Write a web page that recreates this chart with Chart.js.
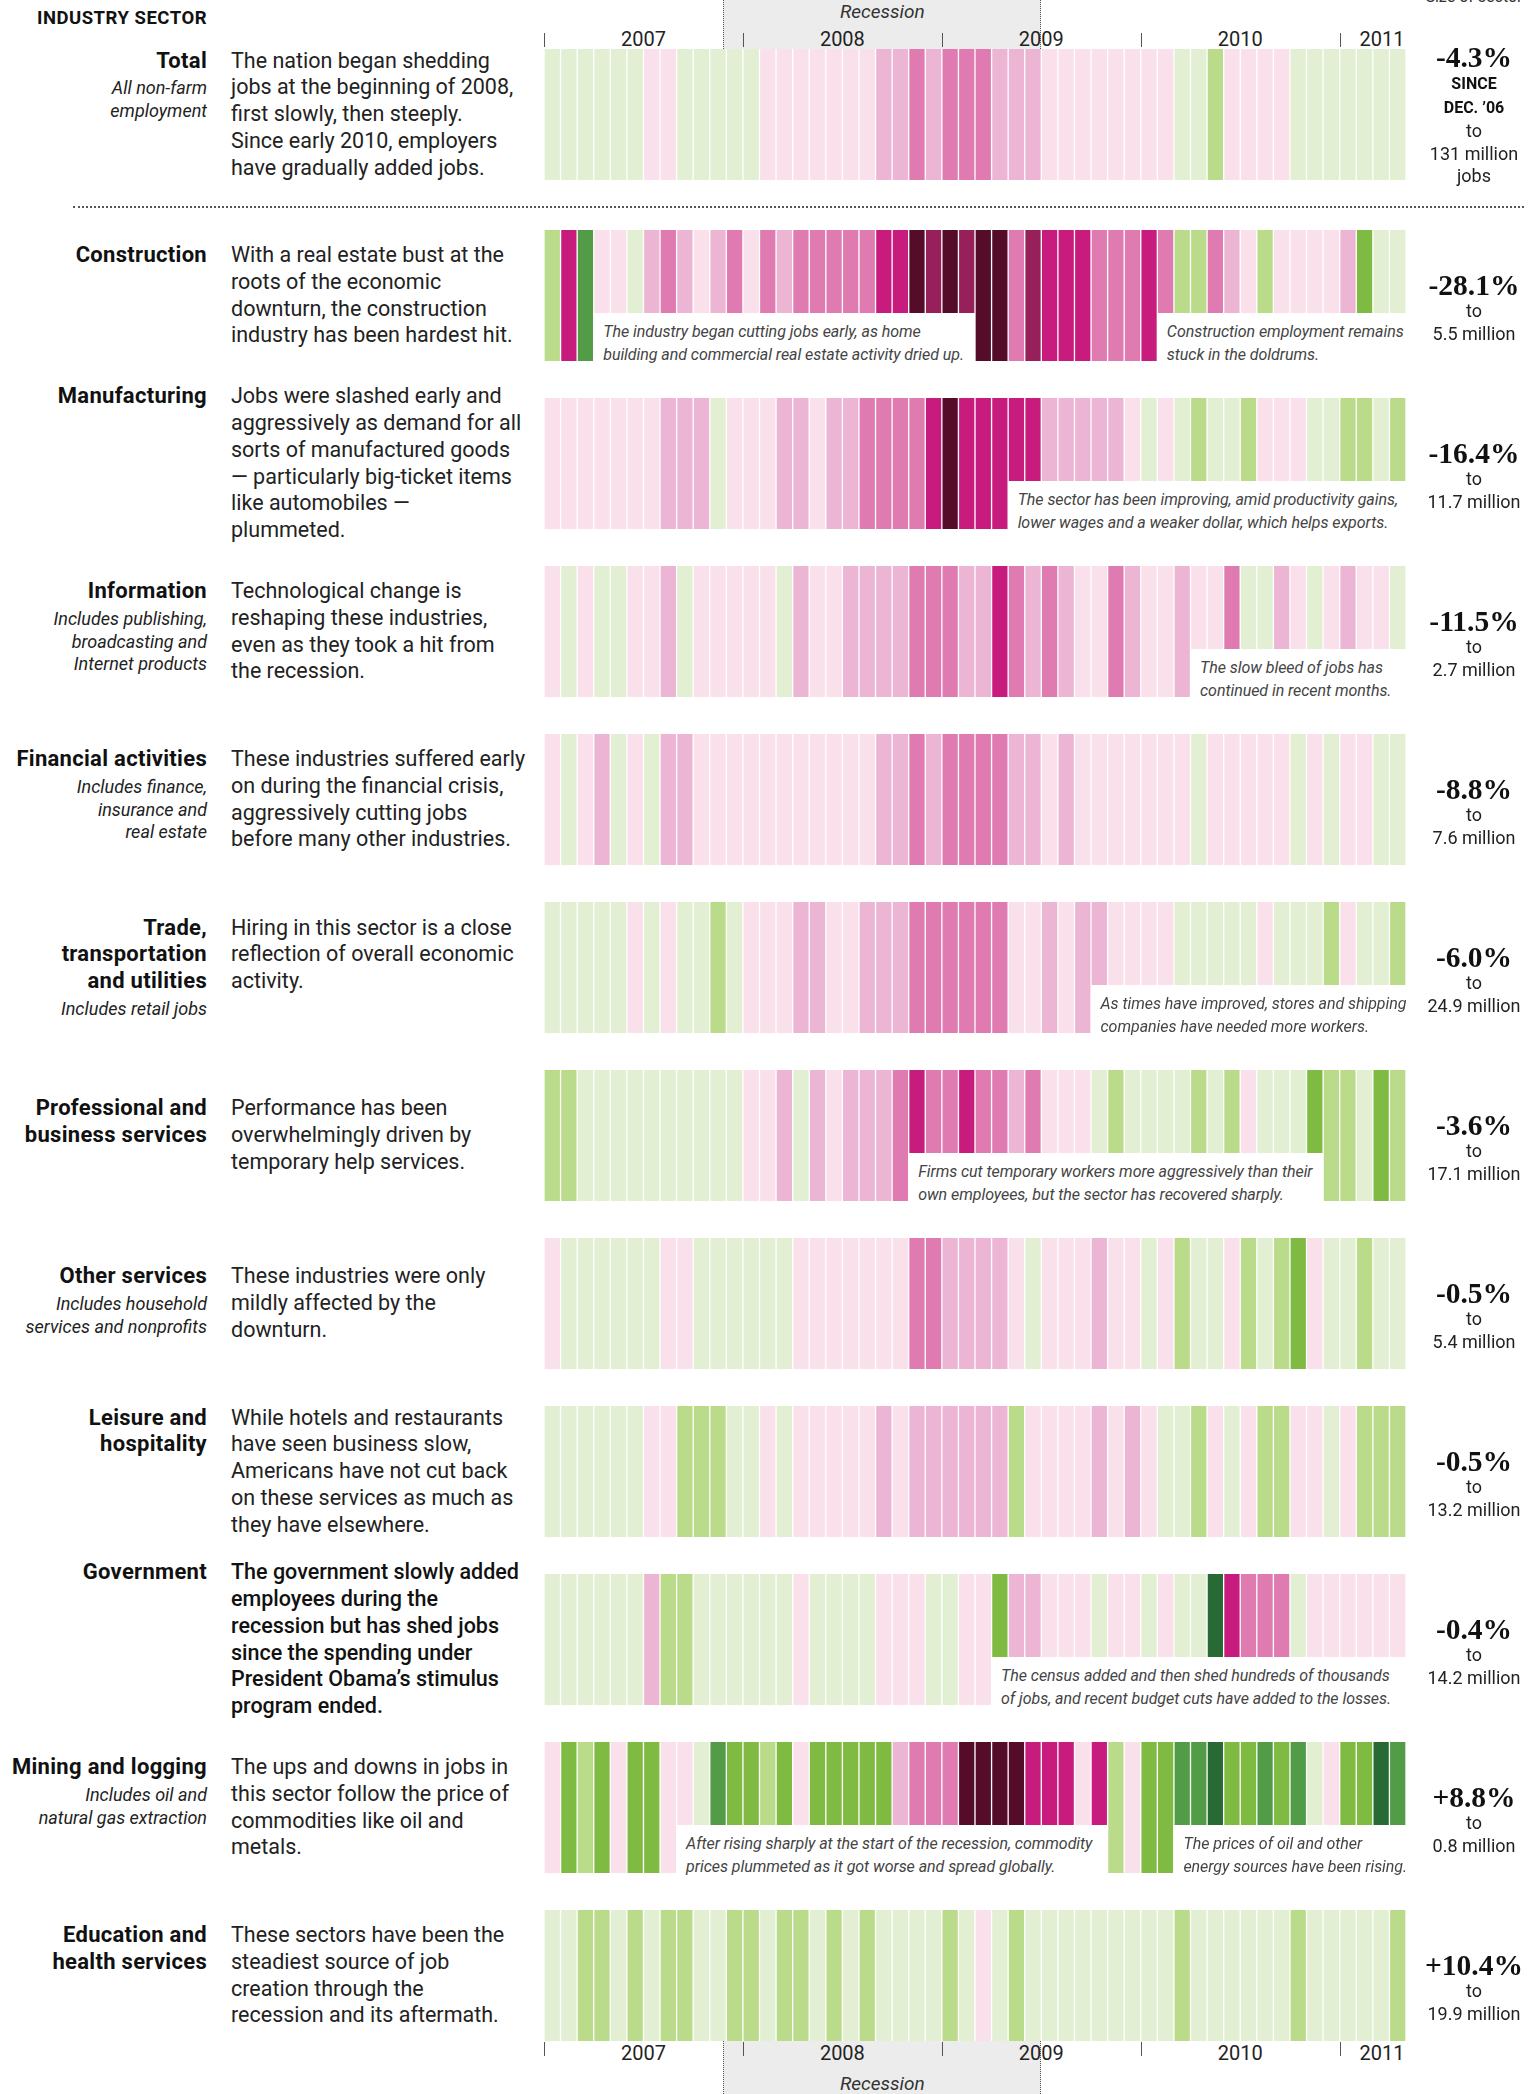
<!DOCTYPE html>
<html>
<head>
<meta charset="utf-8">
<title>Jobs by industry sector</title>
<script src="https://cdn.jsdelivr.net/npm/chart.js@4.4.1/dist/chart.umd.min.js"></script>
<style>
body{margin:0;background:#fff;font-family:Roboto,"Noto Sans",sans-serif;color:#222;}
#page{position:relative;width:1540px;height:2094px;overflow:hidden;background:#fff;}
.abs{position:absolute;}
.strip{position:absolute;left:544px;width:862px;height:131px;}
.textwrap{position:absolute;left:0;width:540px;height:131px;display:flex;align-items:center;}
.inner{display:flex;align-items:flex-start;}
.name{width:207px;text-align:right;white-space:nowrap;}
.name b{display:block;font-size:22px;letter-spacing:0.3px;line-height:26.7px;font-weight:700;color:#111;}
.name i{display:block;font-size:18px;line-height:22.7px;color:#222;}
.name .subs{margin-top:3px;}
.desc{margin-left:24px;width:300px;font-size:21.5px;line-height:26.7px;color:#222;white-space:nowrap;}
.desc.strong{font-weight:500;color:#111;}
.right{position:absolute;left:1404px;width:140px;text-align:center;font-size:18px;line-height:22.5px;color:#222;}
.right .pct{font-family:"Liberation Serif","DejaVu Serif",serif;font-weight:700;font-size:29.5px;line-height:30px;color:#111;}
.right .since{font-weight:700;font-size:16px;line-height:24px;color:#111;}
.note{position:absolute;background:#fff;padding:7px 0 4px 10px;box-sizing:border-box;font-style:italic;font-size:16px;line-height:23px;letter-spacing:-0.05px;color:#444;white-space:nowrap;}
.sep{position:absolute;left:73px;width:1451px;top:206px;border-top:2px dotted #555;}
.recband{position:absolute;background:#ececec;border-left:1px dotted #555;border-right:1px dotted #555;box-sizing:border-box;}
.reclabel{position:absolute;width:100%;text-align:center;font-style:italic;font-size:19px;color:#333;}
.year{position:absolute;font-size:20px;line-height:22px;color:#222;transform:translateX(-50%);}
.tick{position:absolute;width:1px;background:#555;}
</style>
</head>
<body>
<div id="page"></div>
<script>
// CATEGORIES AND TICKS
const years = ["2007", "2008", "2009", "2010", "2011"];
const monthNames = ["Jan","Feb","Mar","Apr","May","Jun","Jul","Aug","Sep","Oct","Nov","Dec"];
const months = [];
years.forEach(y => monthNames.forEach(m => months.push(m + " " + y)));
months.length = 52; // Jan 2007 - Apr 2011

// MONTHLY JOB CHANGE (colour bucket: +4 strong gain ... -6 steep loss)
const total         = [0,0,0,0,0,0,-1,-1,0,0, 0,0,0,-1,-1,-1,-1,-1,-1,-1, -2,-2,-3,-2,-3,-3,-3,-2,-2,-2, -1,-1,-1,-1,-1,-1,-1,-1,0,0, 1,-1,-1,-1,-1,0,0,0,0,0, 0,0];
const construction  = [1,-4,3,-1,-1,0,-2,-3,-2,-1, -2,-3,-1,-3,-2,-3,-3,-3,-3,-3, -4,-4,-6,-5,-6,-5,-6,-6,-3,-5, -4,-4,-4,-3,-3,-3,-4,-3,1,1, -3,-2,-1,1,-1,-1,-1,-1,-2,2, 0,0];
const manufacturing = [-1,-1,-1,-1,-1,-1,-1,-2,-2,-2, 0,-1,-1,-1,-2,-2,-1,-2,-2,-3, -3,-3,-3,-4,-6,-4,-4,-4,-4,-4, -2,-2,-2,-2,-2,-1,0,-1,0,1, 0,0,1,-1,-1,-1,0,0,1,1, 0,1];
const information   = [-1,0,-1,0,0,-1,-1,-2,0,-1, -1,-1,-1,-1,0,-2,-1,-1,-2,-2, -2,-2,-3,-3,-3,-2,-2,-4,-3,-2, -3,-2,-1,-1,-3,-2,-1,-1,-2,-1, -1,-3,0,0,-2,-1,0,-1,-2,-1, -1,0];
const financial     = [-1,0,-1,-2,0,-1,0,-2,-2,-1, -1,-1,-1,-1,-1,-1,-1,-1,-1,-1, -2,-2,-3,-2,-3,-3,-3,-3,-2,-2, -1,-2,-1,-1,-1,-1,-1,-1,-1,0, -1,-1,-1,-1,-1,0,-1,0,-1,-1, 0,0];
const trade         = [0,0,0,0,0,-1,0,-1,0,0, 1,0,-1,-1,-1,-2,-2,-1,-1,-2, -2,-2,-3,-3,-3,-3,-3,-3,-1,-1, -2,-1,-2,-2,-1,-1,-1,-1,0,0, 0,0,0,-1,0,0,0,1,-1,0, 0,1];
const professional  = [1,1,0,0,0,0,0,0,0,0, 0,0,-1,-1,-2,0,-2,-1,-2,-2, -2,-3,-4,-3,-3,-4,-3,-3,-2,-3, -1,-1,-1,0,1,0,0,0,0,1, 0,1,-1,0,0,0,2,1,1,0, 2,1];
const otherServices = [-1,0,0,0,0,0,0,-1,-1,0, 0,0,0,0,0,-1,-1,-1,-1,-1, -1,-1,-3,-3,-2,-2,-2,-2,-1,0, -1,-1,-1,-2,-1,-1,0,-1,1,0, 0,-1,1,0,1,2,-1,0,0,1, 0,0];
const leisure       = [0,0,0,0,0,0,-1,-1,1,1, 1,0,0,-1,0,-1,-1,-1,-1,-1, -2,-1,-2,-2,-2,-2,-2,-2,1,-1, -1,-1,-1,-2,-1,-2,-1,0,0,1, -1,0,-1,1,1,-1,-1,0,-1,1, 1,1];
const government    = [0,0,0,0,0,0,-2,1,1,0, 0,0,0,0,0,-1,0,0,0,0, -1,-1,-1,0,0,-1,-1,2,-2,-2, -1,-1,-1,0,-1,-1,0,-1,0,0, 4,-4,-3,-3,-3,0,-1,-1,-1,-1, -1,-1];
const mining        = [-1,2,1,2,-1,2,2,-1,-1,0, 3,2,2,1,2,-1,2,2,2,2, 2,-2,-3,-3,-3,-6,-6,-6,-6,-4, -4,-4,-1,-4,1,-1,2,2,3,3, 4,2,2,3,2,3,0,-1,2,2, 4,3];
const education     = [0,0,1,1,0,1,0,1,1,0, 0,1,1,0,1,1,0,1,0,1, 0,0,0,0,1,0,-1,0,1,0, 0,0,0,0,0,0,0,0,1,0, 0,0,0,0,0,1,0,0,0,0, 0,1];

// CHANGE SINCE DEC. 2006 AND SIZE OF SECTOR
const pctChange = ["-4.3%","-28.1%","-16.4%","-11.5%","-8.8%","-6.0%","-3.6%","-0.5%","-0.5%","-0.4%","+8.8%","+10.4%"];
const sectorSize = ["131 million","5.5 million","11.7 million","2.7 million","7.6 million","24.9 million","17.1 million","5.4 million","13.2 million","14.2 million","0.8 million","19.9 million"];

const palette = {
    "4":"#276a33", "3":"#529c48", "2":"#7fbb42", "1":"#badb8a", "0":"#e3efd2",
    "-1":"#f9e0ea", "-2":"#edb5d4", "-3":"#df7bb1", "-4":"#c71c7d", "-5":"#98205a", "-6":"#540c28"
};

const rows = [
    {name:["Total"], sub:["All non-farm","employment"], data:total,
     desc:["The nation began shedding","jobs at the beginning of 2008,","first slowly, then steeply.","Since early 2010, employers","have gradually added jobs."]},
    {name:["Construction"], sub:[], data:construction,
     desc:["With a real estate bust at the","roots of the economic","downturn, the construction","industry has been hardest hit."]},
    {name:["Manufacturing"], sub:[], data:manufacturing,
     desc:["Jobs were slashed early and","aggressively as demand for all","sorts of manufactured goods","\u2014 particularly big-ticket items","like automobiles \u2014","plummeted."]},
    {name:["Information"], sub:["Includes publishing,","broadcasting and","Internet products"], data:information,
     desc:["Technological change is","reshaping these industries,","even as they took a hit from","the recession."]},
    {name:["Financial activities"], sub:["Includes finance,","insurance and","real estate"], data:financial,
     desc:["These industries suffered early","on during the financial crisis,","aggressively cutting jobs","before many other industries."]},
    {name:["Trade,","transportation","and utilities"], sub:["Includes retail jobs"], data:trade,
     desc:["Hiring in this sector is a close","reflection of overall economic","activity."]},
    {name:["Professional and","business services"], sub:[], data:professional,
     desc:["Performance has been","overwhelmingly driven by","temporary help services."]},
    {name:["Other services"], sub:["Includes household","services and nonprofits"], data:otherServices,
     desc:["These industries were only","mildly affected by the","downturn."]},
    {name:["Leisure and","hospitality"], sub:[], data:leisure,
     desc:["While hotels and restaurants","have seen business slow,","Americans have not cut back","on these services as much as","they have elsewhere."]},
    {name:["Government"], sub:[], data:government, strong:true,
     desc:["The government slowly added","employees during the","recession but has shed jobs","since the spending under","President Obama\u2019s stimulus","program ended."]},
    {name:["Mining and logging"], sub:["Includes oil and","natural gas extraction"], data:mining,
     desc:["The ups and downs in jobs in","this sector follow the price of","commodities like oil and","metals."]},
    {name:["Education and","health services"], sub:[], data:education,
     desc:["These sectors have been the","steadiest source of job","creation through the","recession and its aftermath."]}
];

// NOTES ON THE STRIPS (row, first cell, cell after last)
const notes = [
    {row:1, from:3, to:26, lines:["The industry began cutting jobs early, as home","building and commercial real estate activity dried up."]},
    {row:1, from:37, to:52, lines:["Construction employment remains","stuck in the doldrums."]},
    {row:2, from:28, to:52, lines:["The sector has been improving, amid productivity gains,","lower wages and a weaker dollar, which helps exports."]},
    {row:3, from:39, to:52, lines:["The slow bleed of jobs has","continued in recent months."]},
    {row:5, from:33, to:52, lines:["As times have improved, stores and shipping","companies have needed more workers."]},
    {row:6, from:22, to:47, lines:["Firms cut temporary workers more aggressively than their","own employees, but the sector has recovered sharply."]},
    {row:9, from:27, to:52, lines:["The census added and then shed hundreds of thousands","of jobs, and recent budget cuts have added to the losses."]},
    {row:10, from:8, to:34, lines:["After rising sharply at the start of the recession, commodity","prices plummeted as it got worse and spread globally."]},
    {row:10, from:38, to:52, lines:["The prices of oil and other","energy sources have been rising."]}
];

const page = document.getElementById("page");
const STRIP_X = 544, STRIP_W = 862, CELL = STRIP_W / months.length;
const rowTop = i => i === 0 ? 49 : 230 + 168 * (i - 1);

function el(tag, cls, parent, html){
    const e = document.createElement(tag);
    if(cls) e.className = cls;
    if(html !== undefined) e.innerHTML = html;
    parent.appendChild(e);
    return e;
}

// HEADER
const head = el("div", "abs", page, "INDUSTRY SECTOR");
Object.assign(head.style, {left:"0px", width:"207px", textAlign:"right", top:"7px", fontWeight:"700", fontSize:"18.5px", letterSpacing:"0.5px", color:"#111", whiteSpace:"nowrap"});
const sizeHead = el("div", "abs", page, "Size of sector");
Object.assign(sizeHead.style, {left:"1404px", width:"140px", textAlign:"center", top:"-13px", fontSize:"16px", color:"#333"});

// RECESSION BANDS + YEAR AXES
function axis(tickTop, labelTop, bandTop, bandH, recTop){
    const band = el("div", "recband", page);
    Object.assign(band.style, {left:(STRIP_X + 11 * CELL - 3) + "px", width:(19 * CELL + 3) + "px", top:bandTop + "px", height:bandH + "px"});
    const lab = el("div", "reclabel", band, "Recession");
    lab.style.top = recTop + "px";
    years.forEach((y, i) => {
        const x0 = STRIP_X + i * 12 * CELL;
        const x1 = Math.min(STRIP_X + STRIP_W, x0 + 12 * CELL);
        const t = el("div", "tick", page);
        Object.assign(t.style, {left:Math.round(x0) + "px", top:tickTop + "px", height:"14px"});
        const l = el("div", "year", page, y);
        const partial = (x1 - x0) < 12 * CELL - 1;
        Object.assign(l.style, {left:(partial ? x1 - 24 : (x0 + x1) / 2) + "px", top:labelTop + "px"});
    });
}
axis(33, 28, 0, 49, 0);
axis(2042, 2042, 2041, 53, 31);

// SEPARATOR
el("div", "sep", page);

// ROWS
rows.forEach((r, i) => {
    const top = rowTop(i);

    const wrap = el("div", "textwrap", page);
    wrap.style.top = top + "px";
    const inner = el("div", "inner", wrap);
    const nm = el("div", "name", inner);
    r.name.forEach(n => el("b", "", nm, n));
    if(r.sub.length){
        const s = el("div", "subs", nm);
        r.sub.forEach(n => el("i", "", s, n));
    }
    el("div", "desc" + (r.strong ? " strong" : ""), inner, r.desc.join("<br>"));

    const strip = el("div", "strip", page);
    strip.style.top = top + "px";
    const canvas = el("canvas", "", strip);

    new Chart(canvas, {
        type: "bar",
        data: {
            labels: months,
            datasets: [{
                data: r.data.map(() => 1),
                backgroundColor: r.data.map(v => palette[String(v)]),
                borderWidth: 0,
                barPercentage: 0.92,
                categoryPercentage: 1
            }]
        },
        options: {
            animation: false,
            responsive: true,
            maintainAspectRatio: false,
            layout: {padding: 0},
            plugins: {legend: {display: false}, tooltip: {enabled: false}},
            scales: {
                x: {display: false},
                y: {display: false, min: 0, max: 1}
            }
        }
    });

    const right = el("div", "right", page);
    if(i === 0){
        right.style.top = (top - 7) + "px";
        right.innerHTML = '<div class="pct">' + pctChange[i] + '</div><div class="since">SINCE</div><div class="since">DEC. \u201906</div><div>to</div><div>' + sectorSize[i] + '</div><div>jobs</div>';
    } else {
        right.style.top = (top + 40) + "px";
        right.innerHTML = '<div class="pct">' + pctChange[i] + '</div><div>to</div><div>' + sectorSize[i] + '</div>';
    }
});

// NOTES
notes.forEach(n => {
    const box = el("div", "note", page, n.lines.join("<br>"));
    Object.assign(box.style, {
        left: (STRIP_X + n.from * CELL - 0.5) + "px",
        width: ((n.to - n.from) * CELL + 0.5) + "px",
        top: (rowTop(n.row) + 83) + "px",
        height: "56px"
    });
});
</script>
</body>
</html>
